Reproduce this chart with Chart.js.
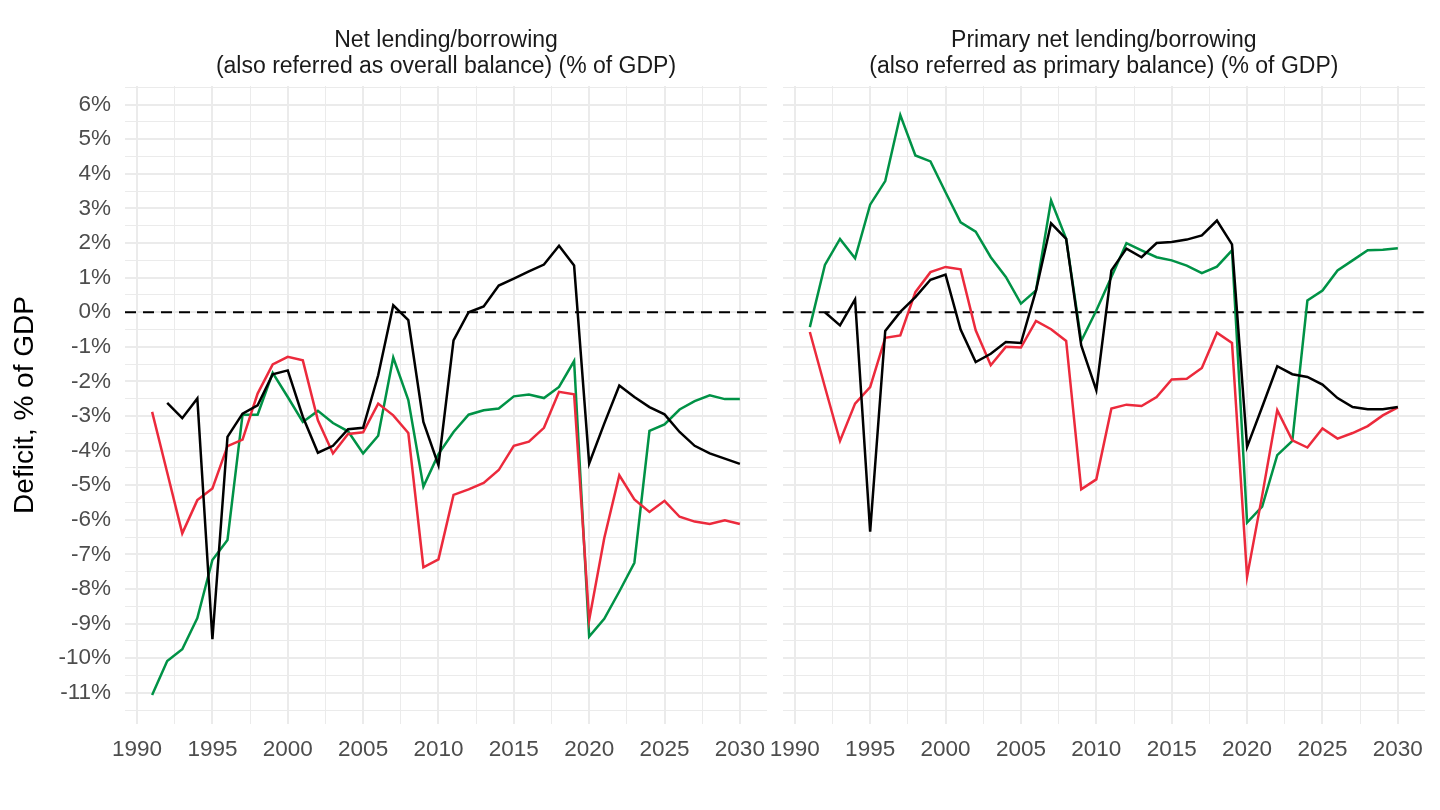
<!DOCTYPE html>
<html>
<head>
<meta charset="utf-8">
<script src="https://cdn.jsdelivr.net/npm/chart.js@4.4.0/dist/chart.umd.min.js"></script>
<style>
  html, body { margin: 0; padding: 0; background: #fff; }
  #wrap { position: relative; width: 1440px; height: 810px; }
  .panel { position: absolute; top: 0; height: 810px; }
</style>
</head>
<body>
<div id="wrap">
  <div class="panel" style="left:0;width:770px"><canvas id="netChart"></canvas></div>
  <div class="panel" style="left:770px;width:670px"><canvas id="primaryChart"></canvas></div>
</div>
<script>
// years on the x axis
const years = [1991, 1992, 1993, 1994, 1995, 1996, 1997, 1998, 1999, 2000,
  2001, 2002, 2003, 2004, 2005, 2006, 2007, 2008, 2009, 2010,
  2011, 2012, 2013, 2014, 2015, 2016, 2017, 2018, 2019, 2020,
  2021, 2022, 2023, 2024, 2025, 2026, 2027, 2028, 2029, 2030];

// Net lending/borrowing (overall balance), % of GDP
const netBlack = [null, -2.62, -3.06, -2.49, -9.45, -3.60, -2.93, -2.69, -1.79, -1.68,
  -3.02, -4.06, -3.86, -3.38, -3.34, -1.82, 0.20, -0.23, -3.17, -4.42,
  -0.81, 0.00, 0.17, 0.77, 0.97, 1.18, 1.38, 1.92, 1.35, -4.37,
  -3.22, -2.12, -2.45, -2.74, -2.95, -3.46, -3.86, -4.08, -4.23, -4.38];
const netGreen = [-11.06, -10.08, -9.74, -8.84, -7.16, -6.58, -2.96, -2.96, -1.75, -2.45,
  -3.17, -2.85, -3.20, -3.44, -4.08, -3.57, -1.31, -2.54, -5.04, -4.10,
  -3.46, -2.96, -2.83, -2.78, -2.43, -2.38, -2.48, -2.16, -1.41, -9.37,
  -8.86, -8.07, -7.24, -3.43, -3.24, -2.81, -2.57, -2.40, -2.51, -2.51];
const netRed = [-2.88, -4.63, -6.39, -5.43, -5.09, -3.87, -3.68, -2.35, -1.51, -1.29,
  -1.39, -3.12, -4.08, -3.52, -3.47, -2.64, -2.98, -3.49, -7.37, -7.14,
  -5.28, -5.12, -4.93, -4.56, -3.86, -3.74, -3.34, -2.30, -2.37, -8.89,
  -6.53, -4.71, -5.41, -5.77, -5.45, -5.91, -6.05, -6.12, -6.01, -6.12];

// Primary net lending/borrowing (primary balance), % of GDP
const primBlack = [null, 0.00, -0.38, 0.37, -6.34, -0.54, 0.01, 0.44, 0.94, 1.09,
  -0.50, -1.44, -1.20, -0.86, -0.89, 0.63, 2.57, 2.12, -0.96, -2.25,
  1.21, 1.84, 1.59, 2.00, 2.03, 2.10, 2.22, 2.65, 1.96, -3.89,
  -2.74, -1.56, -1.79, -1.87, -2.09, -2.48, -2.74, -2.80, -2.80, -2.74];
const primGreen = [-0.43, 1.37, 2.12, 1.56, 3.11, 3.79, 5.70, 4.53, 4.36, 3.47,
  2.60, 2.33, 1.59, 1.02, 0.25, 0.63, 3.23, 2.12, -0.83, 0.05,
  1.02, 2.00, 1.79, 1.59, 1.50, 1.35, 1.13, 1.32, 1.79, -6.08,
  -5.62, -4.13, -3.72, 0.34, 0.63, 1.21, 1.50, 1.79, 1.81, 1.85];
const primRed = [-0.57, -2.16, -3.72, -2.64, -2.16, -0.74, -0.67, 0.58, 1.16, 1.31,
  1.24, -0.52, -1.53, -1.00, -1.02, -0.25, -0.49, -0.83, -5.12, -4.83,
  -2.78, -2.67, -2.71, -2.45, -1.94, -1.92, -1.61, -0.59, -0.89, -7.64,
  -5.30, -2.83, -3.70, -3.91, -3.36, -3.65, -3.49, -3.29, -2.98, -2.75];

// gridlines: labelled every 5 years / 1 %, minor lines halfway
const xGrid = [1990, 1992.5, 1995, 1997.5, 2000, 2002.5, 2005, 2007.5, 2010, 2012.5,
  2015, 2017.5, 2020, 2022.5, 2025, 2027.5, 2030];
const yGrid = [];
for (let v = -11.5; v <= 6.5; v += 0.5) yGrid.push(v);

const ZERO = 0;
const X_MIN = 1989.2, X_MAX = 2031.8;
const Y_MIN = -11.9, Y_MAX = 6.54;

const BLACK = '#000000';
const GREEN = '#009246';
const RED = '#EC2A3C';
const GRID = '#EBEBEB';
const TICK = '#4D4D4D';

Chart.defaults.font.family = "'Liberation Sans', Arial, sans-serif";

const zeroLine = {
  id: 'zeroLine',
  beforeDatasetsDraw(chart) {
    const { ctx, chartArea: a, scales: { y } } = chart;
    const py = y.getPixelForValue(ZERO);
    ctx.save();
    ctx.strokeStyle = '#000';
    ctx.lineWidth = 2.2;
    ctx.setLineDash([11, 7]);
    ctx.beginPath();
    ctx.moveTo(a.left, py);
    ctx.lineTo(a.right, py);
    ctx.stroke();
    ctx.restore();
  }
};

const toPoints = arr => years.map((yr, i) => ({ x: yr, y: arr[i] }));

const series = (arr, color) => ({
  data: toPoints(arr),
  borderColor: color,
  backgroundColor: color,
  borderWidth: 2.5,
  pointRadius: 0,
  fill: false,
  tension: 0
});

function makeChart(id, title, black, green, red, showY) {
  const gridWidth = ctx => (ctx.tick && ctx.tick.value % (ctx.scale.axis === 'x' ? 5 : 1) === 0) ? 2 : 1;
  new Chart(document.getElementById(id), {
    type: 'line',
    data: {
      datasets: [series(black, BLACK), series(red, RED), series(green, GREEN)]
    },
    options: {
      responsive: true,
      maintainAspectRatio: false,
      animation: false,
      layout: { padding: { left: 0, right: showY ? 3 : 15, top: 0, bottom: 0 } },
      plugins: {
        legend: { display: false },
        tooltip: { enabled: false },
        title: {
          display: true,
          text: title,
          fullSize: false,
          color: '#1A1A1A',
          font: { size: 23, weight: 'normal', lineHeight: 1.13 },
          padding: { top: 28, bottom: 6 }
        }
      },
      scales: {
        x: {
          type: 'linear',
          min: X_MIN,
          max: X_MAX,
          afterBuildTicks: s => { s.ticks = xGrid.map(v => ({ value: v })); },
          afterFit: s => { s.height = 86; s.paddingLeft = 0; s.paddingRight = 0; },
          border: { display: false },
          grid: { color: GRID, lineWidth: gridWidth, drawTicks: false },
          ticks: {
            autoSkip: false,
            maxRotation: 0,
            padding: 12,
            color: TICK,
            font: { size: 22.5 },
            callback: v => (v % 5 === 0 ? String(v) : '')
          }
        },
        y: {
          min: Y_MIN,
          max: Y_MAX,
          afterBuildTicks: s => { s.ticks = yGrid.map(v => ({ value: v })); },
          afterFit: s => { s.width = showY ? 125 : 12.7; s.paddingTop = 0; s.paddingBottom = 0; },
          border: { display: false },
          grid: { color: GRID, lineWidth: gridWidth, drawTicks: false },
          ticks: {
            display: showY,
            autoSkip: false,
            padding: 14,
            color: TICK,
            font: { size: 22.5 },
            callback: v => (Number.isInteger(v) ? v + '%' : '')
          },
          title: {
            display: showY,
            text: 'Deficit, % of GDP',
            color: '#000',
            font: { size: 28 },
            padding: { top: 8, bottom: 0 }
          }
        }
      }
    },
    plugins: [zeroLine]
  });
}

makeChart('netChart',
  ['Net lending/borrowing', '(also referred as overall balance) (% of GDP)'],
  netBlack, netGreen, netRed, true);
makeChart('primaryChart',
  ['Primary net lending/borrowing', '(also referred as primary balance) (% of GDP)'],
  primBlack, primGreen, primRed, false);
</script>
</body>
</html>
